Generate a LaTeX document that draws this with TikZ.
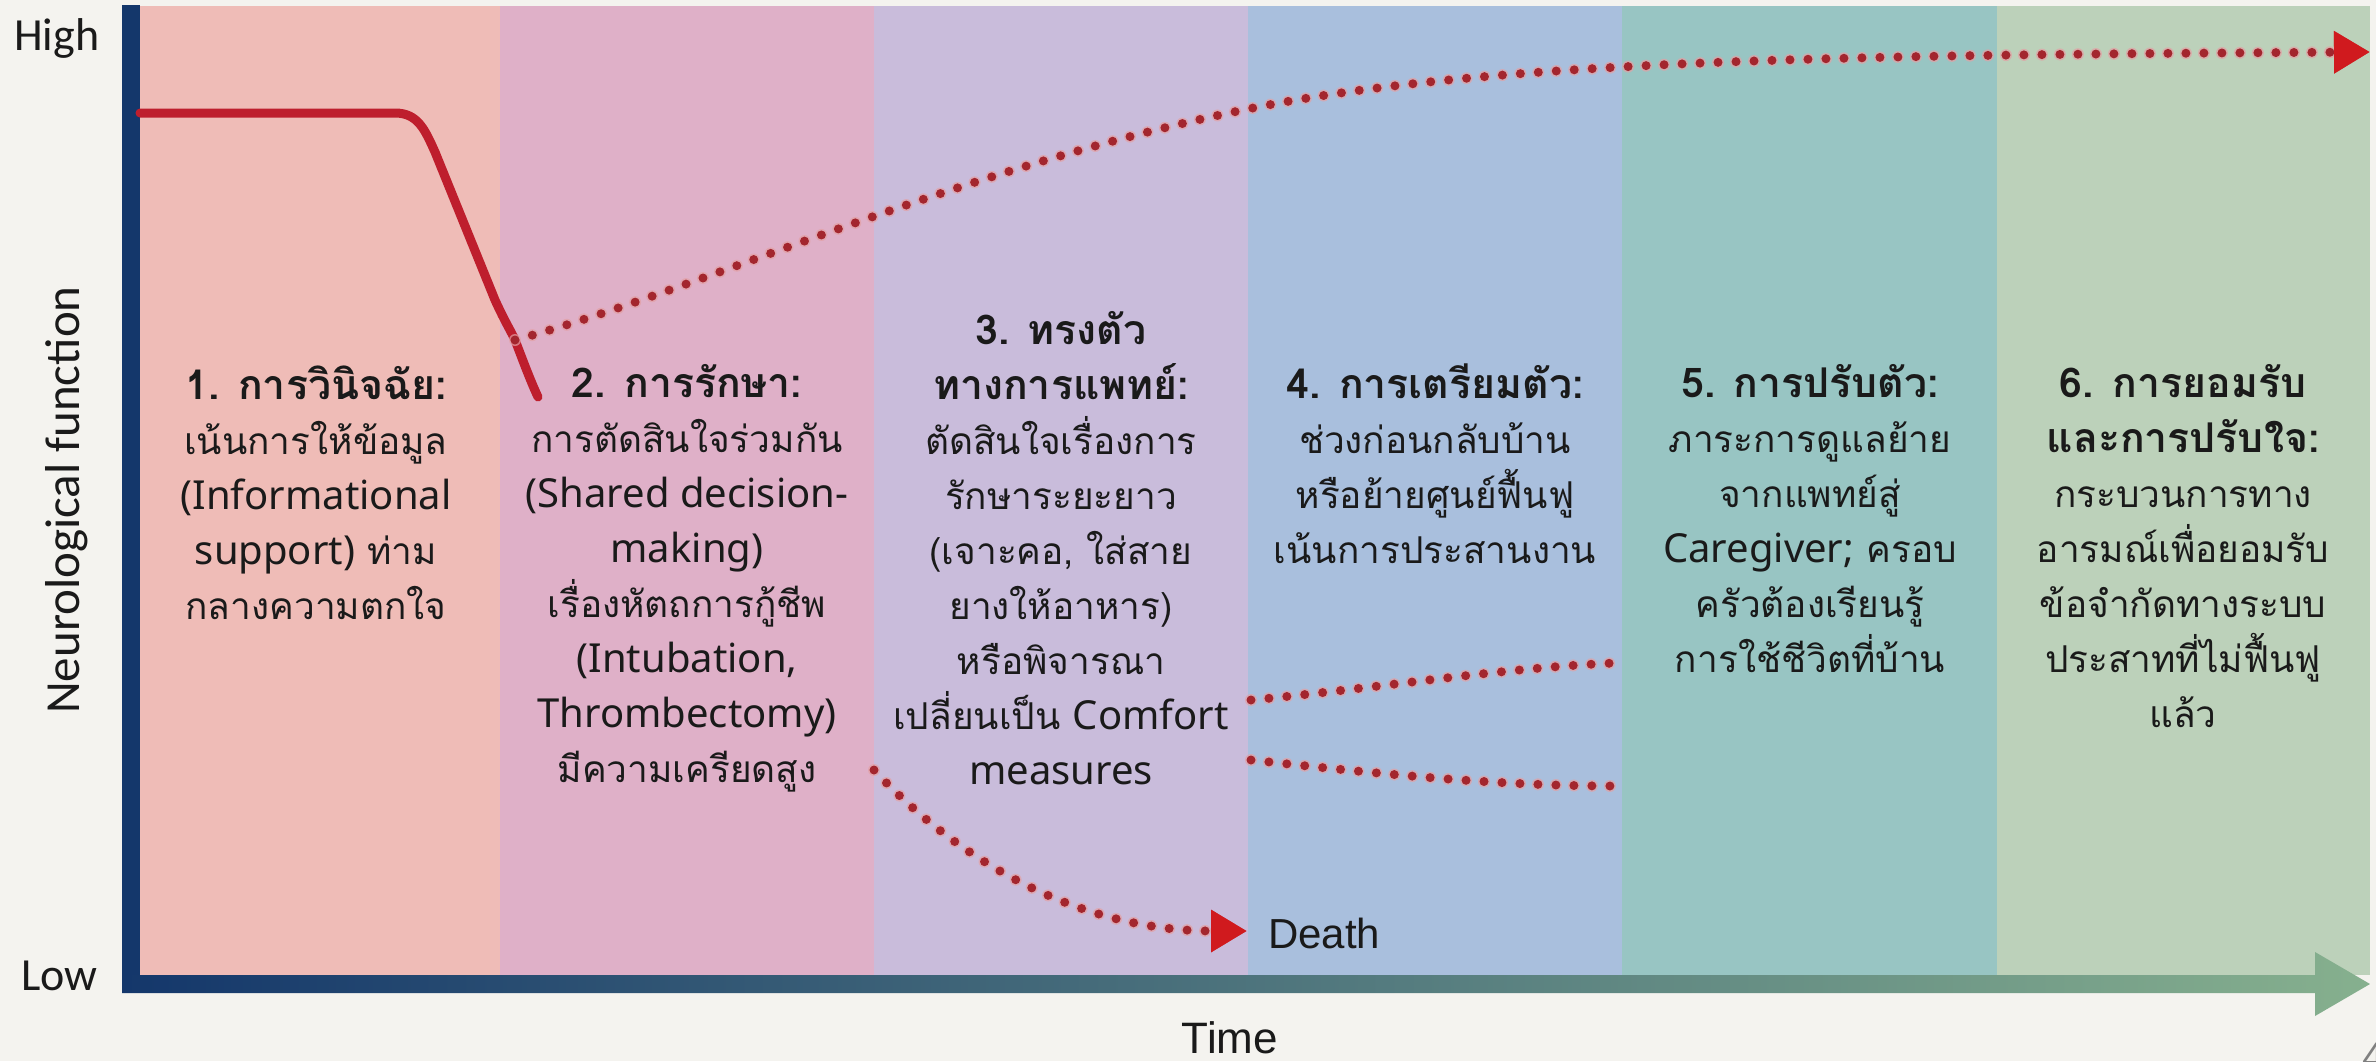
\documentclass[tikz,border=0pt]{standalone}
\usepackage{fontspec}
\setmainfont{Liberation Sans}
\newfontfamily\thaifont[Script=Thai]{Loma}
\newfontfamily\latfont{Noto Sans}
\newfontfamily\axisfont{Carlito}
\usetikzlibrary{arrows.meta}

\definecolor{paper}{HTML}{F4F3EF}
\definecolor{phaseA}{HTML}{EFBCB7}
\definecolor{phaseB}{HTML}{DFB0C8}
\definecolor{phaseC}{HTML}{C9BCDB}
\definecolor{phaseD}{HTML}{A9BFDD}
\definecolor{phaseE}{HTML}{98C5C3}
\definecolor{phaseF}{HTML}{BCD1BA}
\definecolor{navy}{HTML}{14376B}
\definecolor{axisteal}{HTML}{1D5F6F}
\definecolor{axisgreen}{HTML}{86B08E}
\definecolor{courseRed}{HTML}{BE1E2D}
\definecolor{dotRed}{HTML}{A3262E}
\definecolor{dotHalo}{HTML}{E3A0A4}
\definecolor{tipRed}{HTML}{D01A1E}
\definecolor{ink}{HTML}{1A1A1A}

% Latin words inside the Thai descriptions
\newcommand\lat[1]{{\latfont\fontsize{40}{55}\selectfont #1}}
\newcommand\phasehead[1]{{\fontsize{41}{55}\selectfont\bfseries #1}}

\tikzset{
  phasetext/.style={font=\thaifont\fontsize{37}{55}\selectfont, align=center,
    text=ink, inner sep=0pt, anchor=north},
  dotline/.style={draw=dotRed, line width=9pt, line cap=round,
    dash pattern=on 0pt off 18pt,
    preaction={draw=dotHalo, draw opacity=0.7, line width=12pt, line cap=round,
      dash pattern=on 0pt off 18pt}},
  redtip/.style={-{Triangle[length=36pt,width=40pt,color=tipRed]}},
  axislabel/.style={font=\axisfont\fontsize{46}{46}\selectfont, text=ink, inner sep=0pt}
}

\begin{document}
\begin{tikzpicture}[x=1pt,y=-1pt]
\useasboundingbox (0,0) rectangle (2376,1061);
\fill[paper] (0,0) rectangle (2376,1061);

% phase bands
\fill[phaseA] (138,6) rectangle (500,975);
\fill[phaseB] (500,6) rectangle (874,975);
\fill[phaseC] (874,6) rectangle (1248,975);
\fill[phaseD] (1248,6) rectangle (1622,975);
\fill[phaseE] (1622,6) rectangle (1997,975);
\fill[phaseF] (1997,6) rectangle (2370,975);

% axes
\fill[navy] (122,5) rectangle (140,993);
\shade[left color=navy, middle color=axisteal, right color=axisgreen]
  (122,975) -- (2315,975) -- (2315,952) -- (2370,984) -- (2315,1016)
  -- (2315,993) -- (122,993) -- cycle;

% axis labels
\node[axislabel, anchor=base west] (high) at (14,50) {High};
\node[axislabel, anchor=base west] (low) at (21,990) {Low};
\node[axislabel, font=\axisfont\fontsize{49}{49}\selectfont, rotate=90] (ylab) at (67,500) {Neurological function};
\node[font=\fontsize{44}{44}\selectfont, text=ink, inner sep=0pt, anchor=base] (xlab) at (1230,1053) {Time};
\node[font=\fontsize{40}{40}\selectfont, text=gray, inner sep=0pt, anchor=base west] (pg) at (2362,1070) {4};

% course of neurological function
\coordinate (onset) at (140,113);
\coordinate (branch) at (515,340);
\coordinate (drop) at (538,397);
\draw[courseRed, line width=9pt, line cap=round]
  (onset) -- (395,113) .. controls (418,113) and (425,130) .. (435,152)
  -- (495,300) .. controls (505,322) and (512,333) .. (branch)
  .. controls (522,358) and (530,380) .. (drop);

% recovery trajectory
\coordinate (mid) at (1248,109);
\coordinate (recov) at (2370,52);
\draw[dotline, redtip] (branch) .. controls (700,290) and (950,170) .. (mid)
  .. controls (1500,57) and (1900,55) .. (recov);

% death trajectory
\coordinate (dstart) at (874,770);
\coordinate (dend) at (1247,931);
\draw[dotline, redtip] (dstart) .. controls (960,862) and (1080,931) .. (dend);
\node[font=\fontsize{42}{42}\selectfont, text=ink, inner sep=0pt, anchor=west] (death) at (1268,933) {Death};

% outcome trajectories into adaptation phase
\coordinate (upA) at (1251,700);
\coordinate (upB) at (1615,663);
\coordinate (loA) at (1251,760);
\coordinate (loB) at (1615,786);
\draw[dotline] (upA) .. controls (1380,688) and (1500,668) .. (upB);
\draw[dotline] (loA) .. controls (1380,774) and (1500,786) .. (loB);

% phase descriptions
\node[phasetext] (p1) at (316,366) {\phasehead{1. การวินิจฉัย:}\\เน้นการให้ข้อมูล\\\lat{(Informational}\\\lat{support)} ท่าม\\กลางความตกใจ};
\node[phasetext] (p2) at (687,364) {\phasehead{2. การรักษา:}\\การตัดสินใจร่วมกัน\\\lat{(Shared decision-}\\\lat{making)}\\เรื่องหัตถการกู้ชีพ\\\lat{(Intubation,}\\\lat{Thrombectomy)}\\มีความเครียดสูง};
\node[phasetext] (p3) at (1061,311) {\phasehead{3. ทรงตัว}\\\phasehead{ทางการแพทย์:}\\ตัดสินใจเรื่องการ\\รักษาระยะยาว\\(เจาะคอ, ใส่สาย\\ยางให้อาหาร)\\หรือพิจารณา\\เปลี่ยนเป็น \lat{Comfort}\\\lat{measures}};
\node[phasetext] (p4) at (1435,364) {\phasehead{4. การเตรียมตัว:}\\ช่วงก่อนกลับบ้าน\\หรือย้ายศูนย์ฟื้นฟู\\เน้นการประสานงาน};
\node[phasetext] (p5) at (1810,364) {\phasehead{5. การปรับตัว:}\\ภาระการดูแลย้าย\\จากแพทย์สู่\\\lat{Caregiver;} ครอบ\\ครัวต้องเรียนรู้\\การใช้ชีวิตที่บ้าน};
\node[phasetext] (p6) at (2183,364) {\phasehead{6. การยอมรับ}\\\phasehead{และการปรับใจ:}\\กระบวนการทาง\\อารมณ์เพื่อยอมรับ\\ข้อจำกัดทางระบบ\\ประสาทที่ไม่ฟื้นฟู\\แล้ว};
\end{tikzpicture}
\end{document}
